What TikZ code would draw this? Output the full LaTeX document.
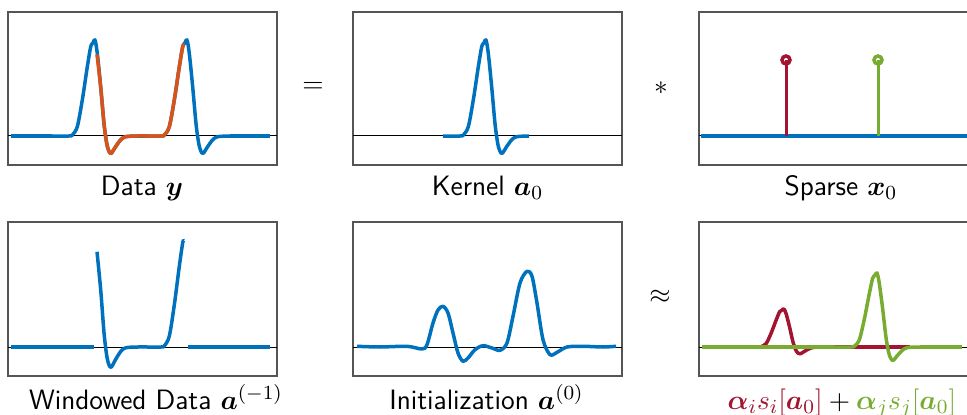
\documentclass[tikz,border=0pt]{standalone}
\usepackage{amsmath,bm}
\definecolor{mblue}{HTML}{0072BD}
\definecolor{morange}{HTML}{D95319}
\definecolor{mred}{HTML}{A2142F}
\definecolor{mgreen}{HTML}{77AC30}
\definecolor{framegrey}{HTML}{555555}

% one kernel pulse: colour, peak x, axis y, amplitude
\newcommand\kernelat[4]{%
  \draw[wave, #1, shift={(#2,#3)}, yscale=#4] plot[smooth, tension=0.5] coordinates {
    (-43,0) (-26,0) (-22.7,0.01) (-17.7,0.097) (-12.7,0.375) (-7.7,0.72)
    (-4.3,0.93) (-2,0.97) (0,1) (2.3,0.86) (5.7,0.51) (9,0.13) (11.7,-0.076)
    (14,-0.16) (16.3,-0.18) (20.7,-0.11) (25.7,-0.04) (30.7,-0.007) (43,0)};}

% the windowed piece of the data (x absolute, height normalised)
\newcommand\windowpts{(97,0.85) (100.7,0.51) (104,0.13) (106.7,-0.076) (109,-0.16)
  (111.3,-0.18) (115.7,-0.11) (120.7,-0.04) (125.7,-0.007) (138,0) (161,0)
  (164.3,0.01) (169.3,0.097) (174.3,0.375) (179.3,0.72) (182.7,0.93) (184,0.95)}

\begin{document}
\begin{tikzpicture}[x=0.4pt, y=0.4pt,
  wave/.style={line width=1.4pt, line join=round},
  frame/.style={framegrey, line width=0.5pt},
  zeroline/.style={black, line width=0.4pt},
  stemline/.style={line width=1.2pt},
  caption/.style={font=\sffamily\fontsize{11.2}{13}\selectfont, anchor=base, inner sep=0pt},
  op/.style={font=\fontsize{11.2}{13}\selectfont, inner sep=0pt}]

  \useasboundingbox (0,0) rectangle (967,414);
  \clip (0,0) rectangle (967,414);

  % === Layout (pixel units, y up) ===
  \def\axTop{278}   % zero line, top row
  \def\axBot{67}    % zero line, bottom row

  % Panel frames and zero lines
  \foreach \xa/\xb in {8/277, 353/622, 699/990} {
    \draw[frame] (\xa,249) rectangle (\xb,402);
    \draw[frame] (\xa,38) rectangle (\xb,192);
    \draw[zeroline] (\xa,\axTop) -- (\xb,\axTop);
    \draw[zeroline] (\xa,\axBot) -- (\xb,\axBot);
  }

  % --- Data y ---
  \draw[wave, mblue] (11,\axTop) -- (52,\axTop);
  \draw[wave, mblue] (138,\axTop) -- (144,\axTop);
  \draw[wave, mblue] (230,\axTop) -- (270,\axTop);
  \kernelat{mblue}{95}{\axTop}{96}
  \kernelat{mblue}{187}{\axTop}{96}
  \draw[wave, morange, shift={(0,\axTop)}, yscale=96]
    plot[smooth, tension=0.5] coordinates {\windowpts};

  % --- Kernel a0 ---
  \kernelat{mblue}{486}{\axTop}{96}

  % --- Sparse x0 ---
  \draw[wave, mblue] (701,\axTop) -- (990,\axTop);
  \draw[stemline, mred] (786,\axTop) -- (786,354);
  \draw[stemline, mred, line width=1.4pt] (786,354) circle[radius=1.6pt];
  \draw[stemline, mgreen] (878,\axTop) -- (878,354);
  \draw[stemline, mgreen, line width=1.4pt] (878,354) circle[radius=1.6pt];

  % --- Windowed data a^(-1) ---
  \draw[wave, mblue] (11,\axBot) -- (94,\axBot);
  \draw[wave, mblue] (188,\axBot) -- (270,\axBot);
  \draw[wave, mblue, shift={(0,\axBot)}, yscale=112]
    plot[smooth, tension=0.5] coordinates {\windowpts};

  % --- Initialization a^(0) ---
  \draw[wave, mblue, shift={(0,\axBot)}] plot[smooth, tension=0.5] coordinates {
    (357,0.7) (380,0) (407,0.7) (422,-2) (427,2.3) (433,24) (438,37) (443,40.7)
    (448,34) (453,14) (458,-6) (463,-14.3) (468,-11) (475,-2.7) (483,1.3)
    (492,-1) (500,-3.3) (507,4) (513,30.7) (520,64) (527,75.7) (532,70.7)
    (537,44) (543,7.3) (550,-7.7) (557,-5.3) (567,0) (583,0.7) (603,0) (616,0.7)};

  % --- Shifted, scaled copies ---
  \draw[wave, mred] (702,\axBot) -- (741,\axBot);
  \draw[wave, mred] (827,\axBot) -- (910,\axBot);
  \kernelat{mred}{784}{\axBot}{38}
  \draw[wave, mgreen] (702,\axBot) -- (834,\axBot);
  \draw[wave, mgreen] (920,\axBot) -- (962,\axBot);
  \kernelat{mgreen}{877}{\axBot}{74}

  % Operators
  \node[op] (eqsign) at (313,327) {$=$};
  \node[op] (convsign) at (661,326) {$*$};
  \node[op] (approxsign) at (660,117) {$\approx$};

  % Captions
  \node[caption] (capdata) at (142,219) {Data $\bm{y}$};
  \node[caption] (capkernel) at (487.5,219) {Kernel $\bm{a}_0$};
  \node[caption] (capsparse) at (841,219) {Sparse $\bm{x}_0$};
  \node[caption] (capwindow) at (156,5) {Windowed Data $\bm{a}^{(-1)}$};
  \node[caption] (capinit) at (486.5,5) {Initialization $\bm{a}^{(0)}$};
  \node[caption] (capsum) at (842,5)
    {${\color{mred}\bm{\alpha}_i s_i[\bm{a}_0]} + {\color{mgreen}\bm{\alpha}_j s_j[\bm{a}_0]}$};

\end{tikzpicture}
\end{document}
